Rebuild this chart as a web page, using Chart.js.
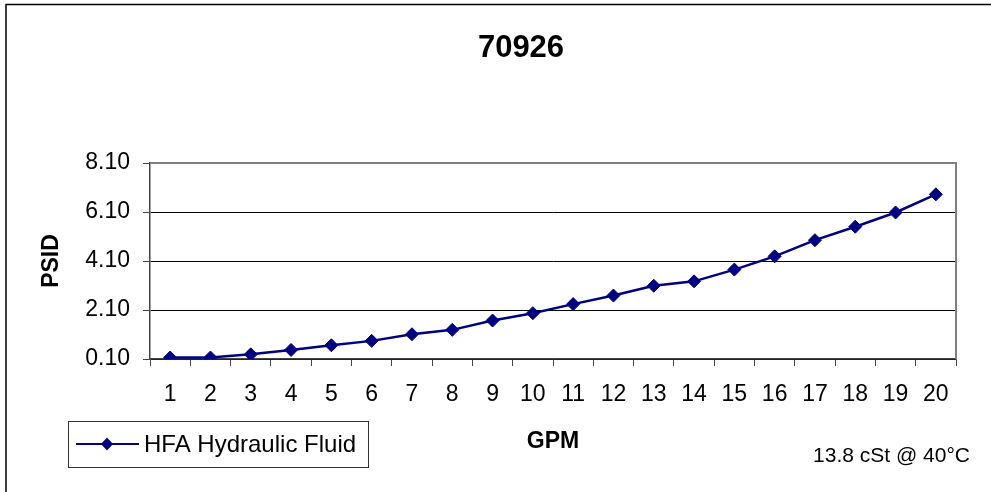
<!DOCTYPE html>
<html>
<head>
<meta charset="utf-8">
<script src="https://cdn.jsdelivr.net/npm/chart.js@4"></script>
<style>
    html, body { margin: 0; padding: 0; background: #fff; }
    #wrap { width: 991px; height: 492px; position: relative; }
</style>
</head>
<body>
<div id="wrap"><canvas id="grafik" width="991" height="492"></canvas></div>
<script>
// data
const gpm = ["1", "2", "3", "4", "5", "6", "7", "8", "9", "10", "11", "12", "13", "14", "15", "16", "17", "18", "19", "20"];
const psid = [0.16, 0.16, 0.29, 0.47, 0.66, 0.84, 1.11, 1.29, 1.67, 1.97, 2.34, 2.69, 3.09, 3.27, 3.75, 4.29, 4.95, 5.50, 6.08, 6.82];
const yTicks = [0.10, 2.10, 4.10, 6.10, 8.10];
const judul = "70926";
const namaSeri = "HFA Hydraulic Fluid";
const catatan = "13.8 cSt @ 40°C";

const warnaSeri = "#000080";
const fontUtama = "'Liberation Sans', Arial, sans-serif";

// teks, bingkai dan legenda digambar sendiri
const hiasan = {
    id: 'hiasan',
    afterDraw(chart) {
        const ctx = chart.ctx;
        const area = chart.chartArea;
        ctx.save();

        // bingkai luar
        ctx.strokeStyle = '#000';
        ctx.lineWidth = 1.5;
        ctx.beginPath();
        ctx.moveTo(6, 500);
        ctx.lineTo(6, 4.5);
        ctx.lineTo(1000, 4.5);
        ctx.stroke();

        // tepi atas dan kanan area plot
        ctx.strokeStyle = '#808080';
        ctx.lineWidth = 2;
        ctx.beginPath();
        ctx.moveTo(area.left, area.top);
        ctx.lineTo(area.right, area.top);
        ctx.lineTo(area.right, area.bottom);
        ctx.stroke();

        ctx.fillStyle = '#000';
        ctx.textAlign = 'center';
        ctx.textBaseline = 'middle';

        ctx.font = `bold 31px ${fontUtama}`;
        ctx.fillText(judul, 521, 48);

        ctx.font = `bold 23px ${fontUtama}`;
        ctx.fillText("GPM", 553, 442);

        ctx.save();
        ctx.translate(52, 261);
        ctx.rotate(-Math.PI / 2);
        ctx.fillText("PSID", 0, 0);
        ctx.restore();

        ctx.font = `21px ${fontUtama}`;
        ctx.textAlign = 'right';
        ctx.fillText(catatan, 970, 456);

        // legenda
        ctx.strokeStyle = '#333';
        ctx.lineWidth = 1;
        ctx.strokeRect(68.5, 421.5, 300, 46);
        ctx.strokeStyle = warnaSeri;
        ctx.lineWidth = 2;
        ctx.beginPath();
        ctx.moveTo(76, 444);
        ctx.lineTo(139, 444);
        ctx.stroke();
        ctx.fillStyle = warnaSeri;
        ctx.beginPath();
        ctx.moveTo(107, 437.5);
        ctx.lineTo(113, 444);
        ctx.lineTo(107, 450.5);
        ctx.lineTo(101, 444);
        ctx.closePath();
        ctx.fill();
        ctx.fillStyle = '#000';
        ctx.textAlign = 'left';
        ctx.font = `24px ${fontUtama}`;
        ctx.fillText(namaSeri, 144, 445);

        ctx.restore();
    }
};

new Chart("grafik", {
    type: "line",
    data: {
        labels: gpm,
        datasets: [{
            label: namaSeri,
            data: psid,
            borderColor: warnaSeri,
            backgroundColor: warnaSeri,
            borderWidth: 2.5,
            pointStyle: 'rectRot',
            pointRadius: 6.5,
            pointBorderWidth: 1,
            tension: 0
        }]
    },
    options: {
        responsive: false,
        animation: false,
        layout: {
            padding: { top: 163, right: 35, left: 0, bottom: 0 }
        },
        plugins: {
            legend: { display: false },
            title: { display: false },
            tooltip: { enabled: false }
        },
        scales: {
            x: {
                offset: true,
                grid: {
                    offset: true,
                    drawOnChartArea: false,
                    color: '#444',
                    tickLength: 7,
                    tickColor: '#444'
                },
                border: { color: '#444', width: 1.5 },
                ticks: {
                    color: '#000',
                    padding: 15,
                    maxRotation: 0,
                    autoSkip: false,
                    font: { family: fontUtama, size: 23 }
                },
                afterFit(scale) { scale.height = 133; }
            },
            y: {
                min: 0.10,
                max: 8.10,
                grid: {
                    color: '#000',
                    lineWidth: 1,
                    tickLength: 7,
                    tickColor: '#444'
                },
                border: { color: '#444', width: 1.5 },
                afterBuildTicks(scale) {
                    scale.ticks = yTicks.map(v => ({ value: v }));
                },
                ticks: {
                    color: '#000',
                    padding: 13,
                    font: { family: fontUtama, size: 23 },
                    callback: v => Number(v).toFixed(2)
                },
                afterFit(scale) { scale.width = 150; }
            }
        }
    },
    plugins: [hiasan]
});
</script>
</body>
</html>
